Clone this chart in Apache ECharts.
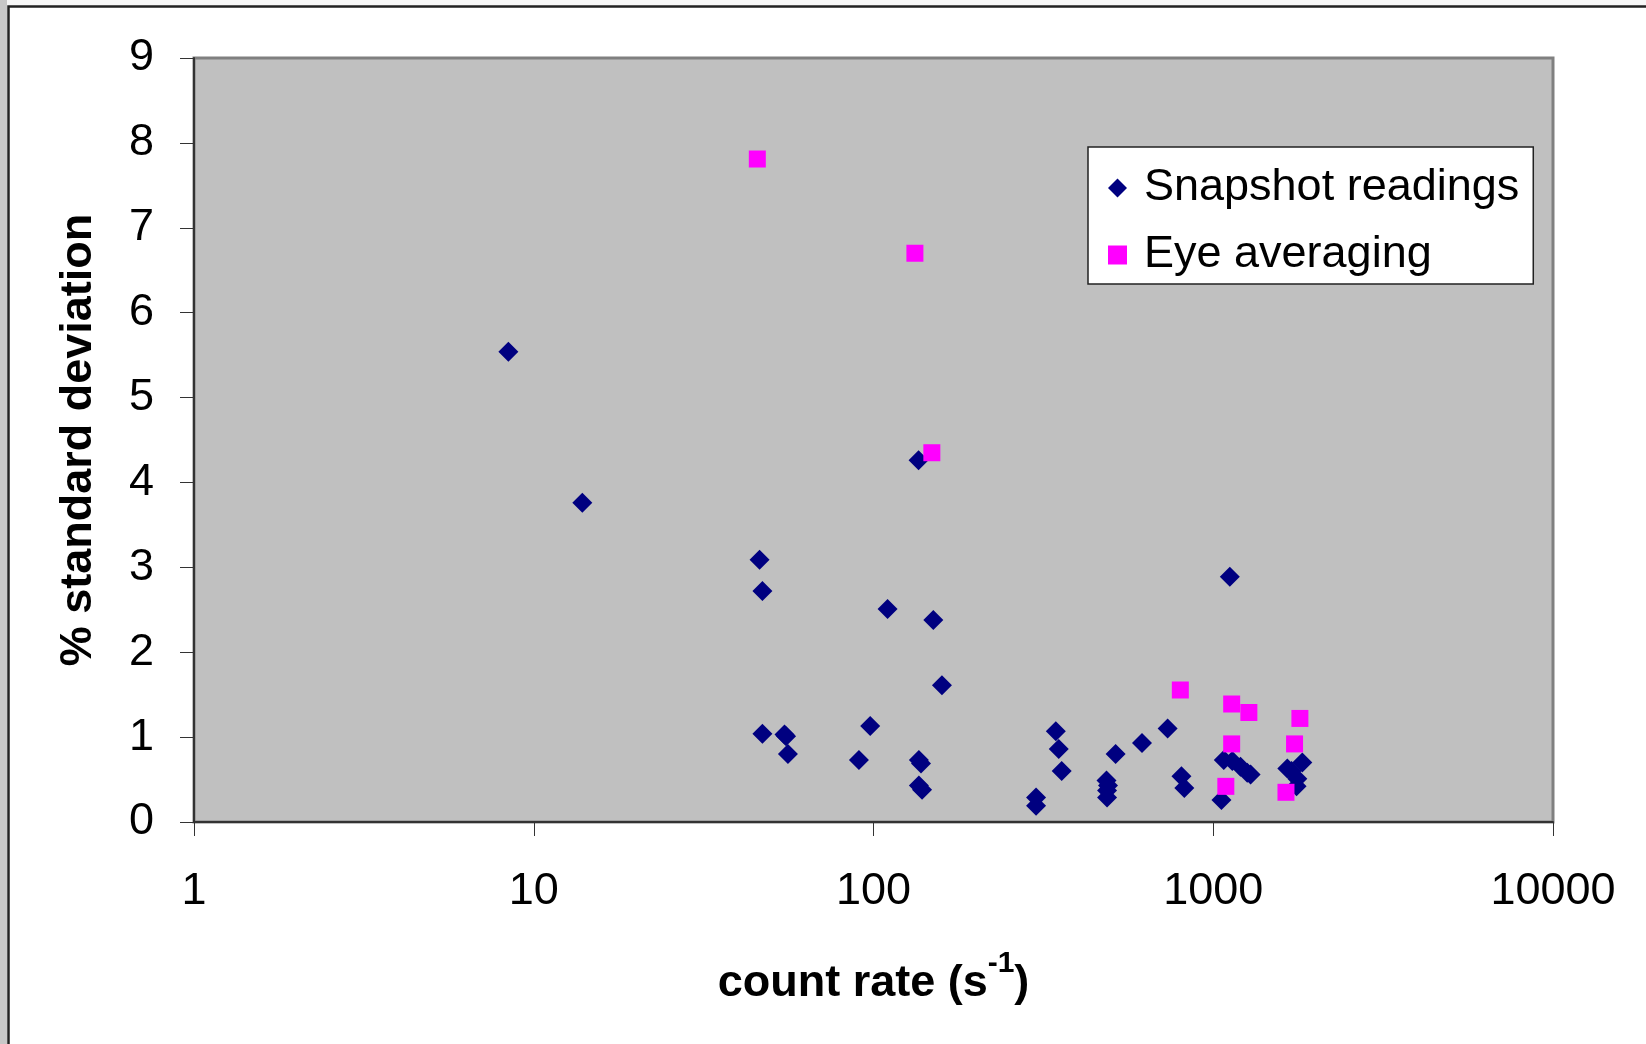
<!DOCTYPE html>
<html>
<head>
<meta charset="utf-8">
<script src="https://cdn.jsdelivr.net/npm/echarts@6/dist/echarts.min.js"></script>
<style>
  html, body { margin: 0; padding: 0; background: #ffffff; }
  #chart { width: 1646px; height: 1044px; }
</style>
</head>
<body>
<div id="chart"></div>
<script>
// ---- data ----
const snapshotX = [8.42, 13.9, 46.2, 47.1, 47.1, 54.7, 55.3, 56, 90.6, 97.8,
  110, 135.7, 150, 159, 136, 138, 136, 139, 301, 301,
  344, 351, 358, 485, 490, 487, 487, 516, 617, 734,
  806, 822, 1057, 1119, 1074, 1138, 1203, 1259, 1288,
  1652, 1829, 1768, 1759, 1700];
const snapshotY = [5.54, 3.76, 3.09, 2.72, 1.04, 1.03, 1.01, 0.80, 0.73, 1.13,
  2.51, 4.26, 2.38, 1.61, 0.73, 0.69, 0.43, 0.38, 0.29, 0.19,
  1.07, 0.86, 0.60, 0.49, 0.43, 0.37, 0.29, 0.80, 0.93, 1.10,
  0.54, 0.40, 0.26, 2.89, 0.73, 0.72, 0.65, 0.58, 0.56,
  0.63, 0.70, 0.51, 0.42, 0.60];
const eyeX = [45.5, 132.4, 148.5, 800, 1133, 1273, 1799, 1133, 1735, 1089, 1637];
const eyeY = [7.81, 6.70, 4.35, 1.555, 1.39, 1.29, 1.22, 0.92, 0.92, 0.42, 0.35];
const seriesNames = ['Snapshot readings', 'Eye averaging'];
const xTickLabels = [1, 10, 100, 1000, 10000];
const yTickLabels = [0, 1, 2, 3, 4, 5, 6, 7, 8, 9];
const xTitle = 'count rate (s{sup|-1})';
const yTitle = '% standard deviation';

const FONT = 'Liberation Sans, Arial, sans-serif';
const pairs = (xs, ys) => xs.map((x, i) => [x, ys[i]]);

const chart = echarts.init(document.getElementById('chart'), null, { renderer: 'canvas' });
chart.setOption({
  backgroundColor: '#f7f7f7',
  animation: false,
  textStyle: { fontFamily: FONT },
  graphic: [
    { type: 'rect', z: -100, silent: true,
      shape: { x: 8.5, y: 6.5, width: 1700, height: 1100 },
      style: { fill: '#ffffff', stroke: '#222222', lineWidth: 2.5 } },
    { type: 'rect', z: -100, silent: true,
      shape: { x: 0, y: 0, width: 7, height: 1044 },
      style: { fill: '#c8c8c8' } }
  ],
  grid: {
    left: 194, right: 93, top: 58, bottom: 222,
    show: true, backgroundColor: '#c0c0c0', borderColor: '#808080', borderWidth: 3
  },
  legend: {
    orient: 'vertical',
    left: 1088, top: 147,
    backgroundColor: '#ffffff', borderColor: '#222222', borderWidth: 1.5,
    padding: [16, 14, 4, 20],
    itemWidth: 19, itemHeight: 19, itemGap: 17,
    textStyle: { fontSize: 45, color: '#000', fontFamily: FONT, lineHeight: 50, padding: [0, 0, 0, 12] },
    data: [
      { name: seriesNames[0], icon: 'diamond' },
      { name: seriesNames[1], icon: 'rect' }
    ]
  },
  xAxis: {
    type: 'log', logBase: 10, min: xTickLabels[0], max: xTickLabels[xTickLabels.length - 1],
    name: xTitle, nameLocation: 'middle', nameGap: 127,
    nameTextStyle: {
      fontSize: 45, fontWeight: 'bold', color: '#000', fontFamily: FONT,
      rich: { sup: { fontSize: 30, fontWeight: 'bold', color: '#000', fontFamily: FONT, verticalAlign: 'top', padding: [0, 0, 40, 0] } }
    },
    axisLine: { show: true, onZero: false, lineStyle: { color: '#333', width: 2 } },
    axisTick: { show: true, inside: false, length: 14, lineStyle: { color: '#333', width: 1 } },
    minorTick: { show: false },
    splitLine: { show: false },
    axisLabel: { fontSize: 45, color: '#000', margin: 47, fontFamily: FONT, formatter: v => String(v) }
  },
  yAxis: {
    type: 'value', min: yTickLabels[0], max: yTickLabels[yTickLabels.length - 1], interval: 1,
    name: yTitle, nameLocation: 'middle', nameGap: 93, nameRotate: 90,
    nameTextStyle: { fontSize: 45, fontWeight: 'bold', color: '#000', fontFamily: FONT },
    axisLine: { show: true, onZero: false, lineStyle: { color: '#333', width: 2 } },
    axisTick: { show: true, inside: false, length: 14, lineStyle: { color: '#333', width: 1 } },
    splitLine: { show: false },
    axisLabel: { fontSize: 45, color: '#000', margin: 40, fontFamily: FONT }
  },
  series: [
    {
      name: seriesNames[0], type: 'scatter', symbol: 'diamond', symbolSize: 20,
      itemStyle: { color: '#000080', opacity: 1 },
      data: pairs(snapshotX, snapshotY), z: 2
    },
    {
      name: seriesNames[1], type: 'scatter', symbol: 'rect', symbolSize: 17,
      itemStyle: { color: '#ff00ff', opacity: 1 },
      data: pairs(eyeX, eyeY), z: 3
    }
  ]
});
</script>
</body>
</html>
